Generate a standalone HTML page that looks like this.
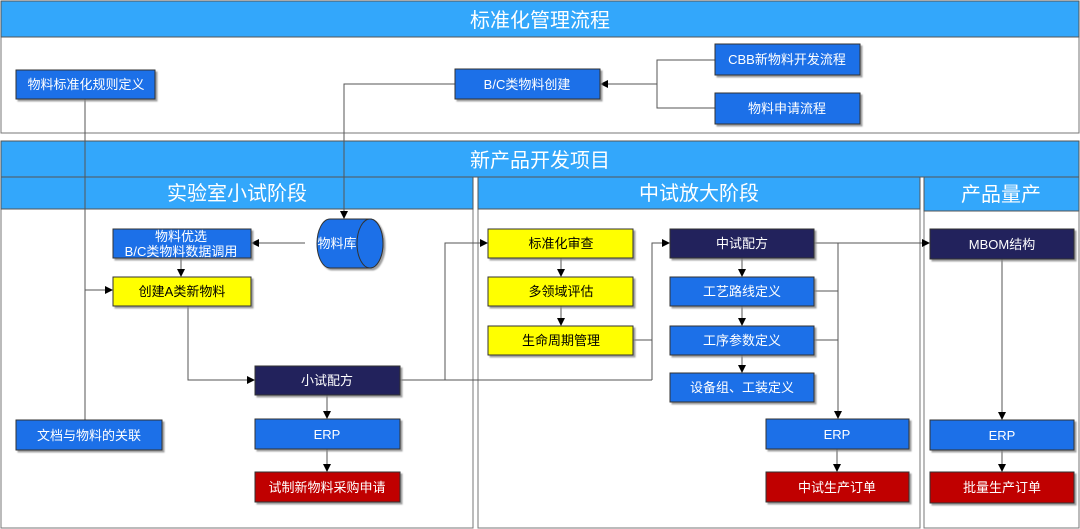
<!DOCTYPE html>
<html><head><meta charset="utf-8"><style>
body{margin:0;width:1080px;height:529px;overflow:hidden;background:#fff;font-family:"Liberation Sans","Noto Sans CJK SC",sans-serif}
svg{display:block}
text{font-family:"Liberation Sans","Noto Sans CJK SC",sans-serif}
</style></head><body>
<svg width="1080" height="529" viewBox="0 0 1080 529">
<defs>
<marker id="a" markerWidth="8" markerHeight="8" refX="7" refY="4" orient="auto" markerUnits="userSpaceOnUse"><path d="M0,0L8,4L0,8z" fill="#000"/></marker>
<filter id="s" x="-5%" y="-5%" width="115%" height="130%"><feDropShadow dx="2" dy="2" stdDeviation="0.8" flood-color="#888" flood-opacity="0.8"/></filter>
</defs>
<!-- top section -->
<rect x="1" y="1" width="1078" height="132" fill="#fff" stroke="#777"/>
<rect x="1" y="1" width="1078" height="36" fill="#33a7fb" stroke="#555"/>
<text x="540" y="27" font-size="20" fill="#fff" text-anchor="middle">标准化管理流程</text>
<!-- second section -->
<rect x="1" y="141" width="1078" height="36" fill="#33a7fb" stroke="#555"/>
<text x="540" y="167" font-size="20" fill="#fff" text-anchor="middle">新产品开发项目</text>
<rect x="1" y="177" width="472" height="351" fill="#fff" stroke="#777"/>
<rect x="1" y="177" width="472" height="32" fill="#33a7fb" stroke="#555"/>
<text x="237" y="200" font-size="20" fill="#fff" text-anchor="middle">实验室小试阶段</text>
<rect x="478" y="177" width="442" height="351" fill="#fff" stroke="#777"/>
<rect x="478" y="177" width="442" height="32" fill="#33a7fb" stroke="#555"/>
<text x="699" y="200" font-size="20" fill="#fff" text-anchor="middle">中试放大阶段</text>
<rect x="924" y="177" width="155" height="351" fill="#fff" stroke="#777"/>
<rect x="924" y="177" width="155" height="34" fill="#33a7fb" stroke="#555"/>
<text x="1001" y="201" font-size="20" fill="#fff" text-anchor="middle">产品量产</text>

<!-- connectors -->
<g stroke="#555" stroke-width="1" fill="none">
<path d="M715,60H657V108H715"/>
<path d="M657,84H601" marker-end="url(#a)"/>
<path d="M455,84H344V218" marker-end="url(#a)"/>
<path d="M85,99V420"/>
<path d="M85,290H112" marker-end="url(#a)"/>
<path d="M305,243H252" marker-end="url(#a)"/>
<path d="M181,258V276" marker-end="url(#a)"/>
<path d="M188,306V380H254" marker-end="url(#a)"/>
<path d="M327,395V418" marker-end="url(#a)"/>
<path d="M327,449V471" marker-end="url(#a)"/>
<path d="M400,380H652"/>
<path d="M445,380V243H487" marker-end="url(#a)"/>
<path d="M633,340H652"/>
<path d="M652,380V243H669" marker-end="url(#a)"/>
<path d="M561,258V276" marker-end="url(#a)"/>
<path d="M561,306V325" marker-end="url(#a)"/>
<path d="M742,258V276" marker-end="url(#a)"/>
<path d="M742,306V325" marker-end="url(#a)"/>
<path d="M742,355V372" marker-end="url(#a)"/>
<path d="M814,243H929" marker-end="url(#a)"/>
<path d="M838,243V418" marker-end="url(#a)"/>
<path d="M814,291H838M814,340H838"/>
<path d="M837,449V471" marker-end="url(#a)"/>
<path d="M1002,259V419" marker-end="url(#a)"/>
<path d="M1002,450V471" marker-end="url(#a)"/>
</g>

<g filter="url(#s)" stroke="#333" stroke-width="1">
<rect x="16" y="70" width="139" height="29" fill="#1a70e8"/>
<rect x="455" y="69" width="145" height="30" fill="#1a70e8"/>
<rect x="715" y="44" width="145" height="31" fill="#1a70e8"/>
<rect x="715" y="93" width="145" height="31" fill="#1a70e8"/>
<rect x="113" y="229" width="138" height="29" fill="#1a70e8"/>
<rect x="113" y="277" width="138" height="29" fill="#ffff00"/>
<rect x="16" y="420" width="146" height="30" fill="#1a70e8"/>
<rect x="255" y="366" width="145" height="29" fill="#24205c"/>
<rect x="255" y="419" width="145" height="30" fill="#1a70e8"/>
<rect x="255" y="472" width="145" height="30" fill="#c00000"/>
<rect x="488" y="229" width="145" height="29" fill="#ffff00"/>
<rect x="488" y="277" width="145" height="29" fill="#ffff00"/>
<rect x="488" y="326" width="145" height="29" fill="#ffff00"/>
<rect x="670" y="229" width="144" height="29" fill="#24205c"/>
<rect x="670" y="277" width="144" height="29" fill="#1a70e8"/>
<rect x="670" y="326" width="144" height="29" fill="#1a70e8"/>
<rect x="670" y="373" width="144" height="29" fill="#1a70e8"/>
<rect x="766" y="419" width="143" height="30" fill="#1a70e8"/>
<rect x="766" y="472" width="143" height="30" fill="#c00000"/>
<rect x="930" y="229" width="144" height="30" fill="#24205c"/>
<rect x="930" y="420" width="144" height="30" fill="#1a70e8"/>
<rect x="930" y="472" width="144" height="31" fill="#c00000"/>
<!-- cylinder -->
<path d="M330,219H370A13,24.5 0 0 1 370,268H330A13,24.5 0 0 1 330,219Z" fill="#1a70e8"/>
<ellipse cx="370" cy="243.5" rx="13" ry="24.5" fill="#1a70e8"/>
</g>

<g font-size="13" fill="#fff" text-anchor="middle">
<text x="86" y="89">物料标准化规则定义</text>
<text x="527" y="89">B/C类物料创建</text>
<text x="787" y="64">CBB新物料开发流程</text>
<text x="787" y="113">物料申请流程</text>
<text x="181" y="241">物料优选</text>
<text x="181" y="256">B/C类物料数据调用</text>
<text x="337" y="248">物料库</text>
<text x="89" y="440">文档与物料的关联</text>
<text x="327" y="385">小试配方</text>
<text x="327" y="439">ERP</text>
<text x="327" y="492">试制新物料采购申请</text>
<text x="742" y="248">中试配方</text>
<text x="742" y="296">工艺路线定义</text>
<text x="742" y="345">工序参数定义</text>
<text x="742" y="392">设备组、工装定义</text>
<text x="837" y="439">ERP</text>
<text x="837" y="492">中试生产订单</text>
<text x="1002" y="249">MBOM结构</text>
<text x="1002" y="440">ERP</text>
<text x="1002" y="492">批量生产订单</text>
</g>
<g font-size="13" fill="#000" text-anchor="middle">
<text x="182" y="296">创建A类新物料</text>
<text x="561" y="248">标准化审查</text>
<text x="561" y="296">多领域评估</text>
<text x="561" y="345">生命周期管理</text>
</g>
</svg>
</body></html>
